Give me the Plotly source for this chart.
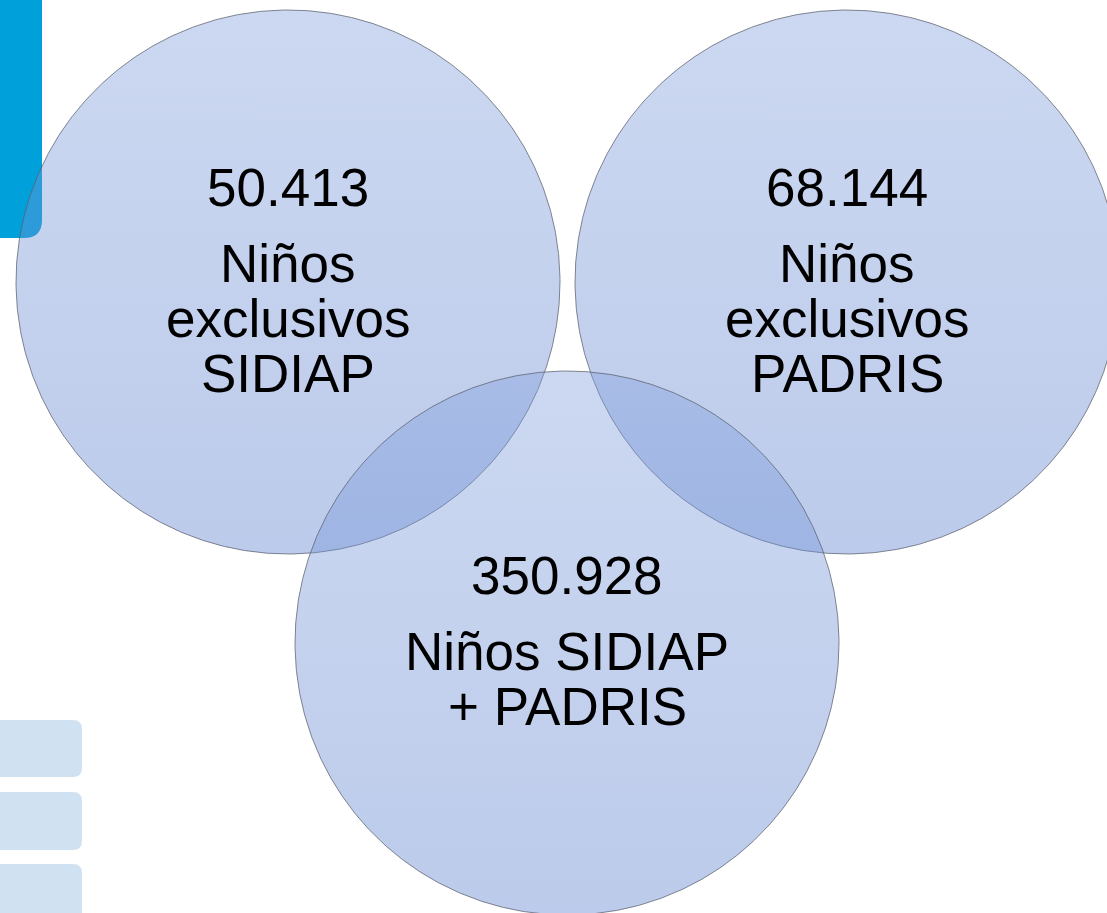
import numpy as np
import plotly.graph_objects as go

# ---- data ----
values = ["50.413", "68.144", "350.928"]
labels = [["Niños", "exclusivos", "SIDIAP"],
          ["Niños", "exclusivos", "PADRIS"],
          ["Niños SIDIAP", "+ PADRIS"]]

# ---- layout constants (pixels, y downward) ----
W, H = 1107, 913
centers = [(288, 282), (847, 282), (567, 643)]
R = 272
FS = 53
LINE = 55

fig = go.Figure()

def rrect(x0, y0, x1, y1, r):
    return (f"M{x0},{y0} L{x1},{y0} L{x1},{y1-r} Q{x1},{y1} {x1-r},{y1} "
            f"L{x0+r},{y1} Q{x0},{y1} {x0},{y1-r} Z")

def rrect_all(x0, y0, x1, y1, r):
    return (f"M{x0+r},{y0} L{x1-r},{y0} Q{x1},{y0} {x1},{y0+r} L{x1},{y1-r} "
            f"Q{x1},{y1} {x1-r},{y1} L{x0+r},{y1} Q{x0},{y1} {x0},{y1-r} "
            f"L{x0},{y0+r} Q{x0},{y0} {x0+r},{y0} Z")

shapes = [
    dict(type="path", path=rrect(-20, -20, 42, 238, 18), fillcolor="#00a1db",
         line=dict(width=0), layer="below"),
]
for (ya, yb) in [(720, 777), (792, 850), (864, 940)]:
    shapes.append(dict(type="path", path=rrect_all(-20, ya, 82, yb, 9),
                       fillcolor="#d0e1f1", line=dict(width=0), layer="below"))

t = np.linspace(0, 2 * np.pi, 721)
for (cx, cy) in centers:
    fig.add_trace(go.Scatter(
        x=cx + R * np.cos(t), y=cy + R * np.sin(t),
        mode="lines", fill="toself",
        fillgradient=dict(type="vertical",
                          colorscale=[[0, "rgba(128,158,220,0.4)"],
                                      [1, "rgba(88,125,205,0.4)"]],
                          start=cy - R, stop=cy + R),
        line=dict(color="rgba(90,95,110,0.75)", width=1),
        hoverinfo="skip", showlegend=False))

annotations = []
# baseline positions (pixels) relative to circle centre
num_base = [-75, -75, -48]
for i, (cx, cy) in enumerate(centers):
    base = cy + num_base[i]
    annotations.append(dict(x=cx, y=base - 20, text=values[i], showarrow=False,
                            xanchor="center", yanchor="middle",
                            font=dict(size=FS, color="black",
                                      family="Liberation Sans, Arial")))
    for j, ln in enumerate(labels[i]):
        b = base + 76 + j * LINE
        annotations.append(dict(x=cx, y=b - 20, text=ln, showarrow=False,
                                xanchor="center", yanchor="middle",
                                font=dict(size=FS, color="black",
                                          family="Liberation Sans, Arial")))

fig.update_layout(
    width=W, height=H, margin=dict(l=0, r=0, t=0, b=0),
    paper_bgcolor="white", plot_bgcolor="white",
    xaxis=dict(range=[0, W], visible=False, fixedrange=True),
    yaxis=dict(range=[H, 0], visible=False, fixedrange=True),
    shapes=shapes, annotations=annotations,
)

fig.write_html("out.html", config={"displayModeBar": False},
               post_script="document.body.style.margin='0';")
